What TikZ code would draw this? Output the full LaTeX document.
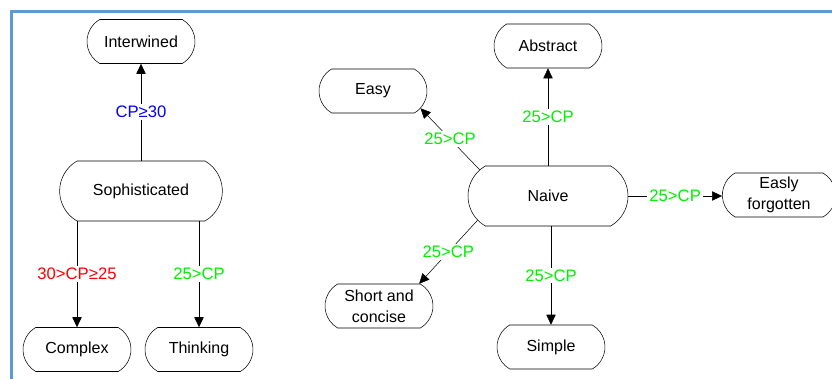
\documentclass[tikz,border=0pt]{standalone}
\usepackage{fontspec}
\setmainfont{Liberation Sans}
\usepackage{xcolor}
\usetikzlibrary{shapes.misc, arrows.meta}
\definecolor{frameblue}{HTML}{5B9BD5}
\definecolor{cpgreen}{HTML}{00F000}
\definecolor{cpblue}{HTML}{0000FF}
\definecolor{cpred}{HTML}{FF0000}
\tikzset{->,
         >={Triangle[length=7.5pt, width=7pt]},
         x=0.75pt, y=-0.75pt,
         line width=0.75pt,
         every node/.style={font=\fontsize{12}{15.5}\selectfont},
         level/.style={draw, rounded rectangle, rounded rectangle arc length=120,
                       minimum width=83pt, minimum height=33pt, inner sep=1pt, align=center},
         big/.style={minimum width=124pt, minimum height=45pt},
         cond/.style={fill=white, inner sep=1.5pt, font=\fontsize{12.5}{15}\selectfont},
         }

\begin{document}
\begin{tikzpicture}
    \useasboundingbox (0,0) rectangle (832,379);
    \draw[-, frameblue, line width=2.25pt] (11,379) -- (11,11.5) -- (832,11.5);

    % left tree
    \node[level] (intw) at (141,41.5) {Interwined};
    \node[level, big] (soph) at (141,191) {Sophisticated};
    \node[level] (cplx) at (77,349.5) {Complex};
    \node[level] (think) at (199,349.5) {Thinking};

    \draw (soph.north) -- node[cond, text=cpblue]{CP≥30} (intw.south);
    \draw (cplx |- soph.south) -- node[cond, text=cpred]{30>CP≥25} (cplx.north);
    \draw (think |- soph.south) -- node[cond, text=cpgreen]{25>CP} (think.north);

    % right star
    \node[level, big, minimum width=122pt] (naive) at (548,196) {Naive};
    \node[level] (abst) at (548,46) {Abstract};
    \node[level] (easy) at (373,91) {Easy};
    \node[level, minimum width=87pt] (forgot) at (779,195) {Easly\\forgotten};
    \node[level] (short) at (379,306) {Short and\\concise};
    \node[level] (simple) at (551,347) {Simple};

    \draw (naive.north) -- node[cond, text=cpgreen]{25>CP} (abst.south);
    \draw (naive.159) -- node[cond, text=cpgreen]{25>CP} (easy.-20);
    \draw (naive.east) -- node[cond, text=cpgreen]{25>CP} (naive.east -| forgot.west);
    \draw (naive.199) -- node[cond, text=cpgreen]{25>CP} (short.29);
    \draw (simple |- naive.south) -- node[cond, text=cpgreen]{25>CP} (simple.north);
\end{tikzpicture}
\end{document}
